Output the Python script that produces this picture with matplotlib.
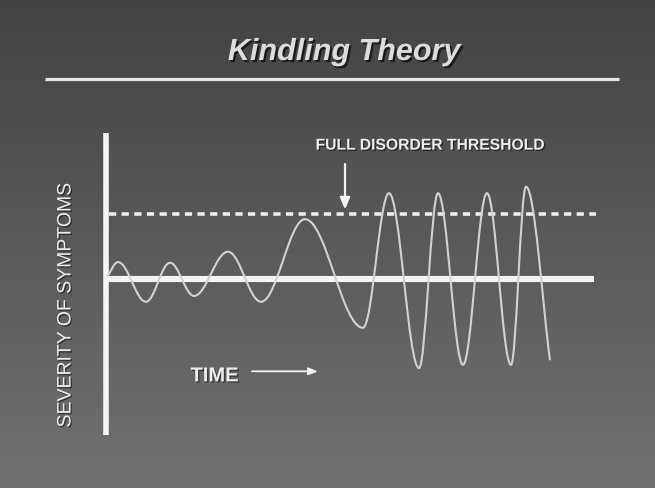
import numpy as np
import matplotlib
matplotlib.use("Agg")
import matplotlib.pyplot as plt
from matplotlib.path import Path
from matplotlib.patches import PathPatch
from matplotlib.lines import Line2D
import matplotlib.patheffects as pe

# ---- data ----
time_pts = [0.1, 1.2, 4.0, 6.4, 8.8, 12.2, 15.5, 19.9, 25.7, 28.3,
            31.3, 33.2, 35.7, 38.1, 40.5, 42.0, 44.4]
severity = [0.03, 0.26, -0.35, 0.25, -0.26, 0.42, -0.35, 0.92, -0.75, 1.32,
            -1.37, 1.32, -1.32, 1.32, -1.32, 1.42, -1.25]
baseline_level = 0.0
threshold_level = 1.0
title_text = "Kindling Theory"
threshold_label = "FULL DISORDER THRESHOLD"
time_label = "TIME"
y_label = "SEVERITY OF SYMPTOMS"

plt.rcParams['font.family'] = ['Liberation Sans', 'DejaVu Sans']

W, H = 655, 488
fig = plt.figure(figsize=(W / 100, H / 100), dpi=100)

# background gradient
bg = fig.add_axes([0, 0, 1, 1])
top = np.array([0x43, 0x43, 0x45]) / 255
bot = np.array([0x70, 0x71, 0x73]) / 255
g = np.linspace(0, 1, 256)[:, None]
img = top[None, None, :] * (1 - g[..., None]) + bot[None, None, :] * g[..., None]
img = np.repeat(img, 2, axis=1)
bg.imshow(img, aspect='auto', extent=[0, 1, 0, 1], origin='upper')
bg.set_axis_off()

# chart axes
ax = fig.add_axes([106 / W, (H - 435) / H, 490 / W, 302 / H])
ax.set_xlim(0, 49)
ax.set_ylim(-2.4, 2.246)
ax.set_axis_off()

# vertical axis line
ax.plot([0, 0], [-2.4, 2.246], color='#f4f4f4', lw=4.0, solid_capstyle='butt', clip_on=False, zorder=3)
# baseline
ax.plot([0, 48.8], [baseline_level, baseline_level], color='#f4f4f4', lw=4.4, solid_capstyle='butt', zorder=3)
# threshold dashed line
ax.plot([0.3, 49.0], [threshold_level, threshold_level], color='#eeeeee', lw=2.6,
        dashes=(2.0, 1.5), zorder=3)

# smooth curve through extrema (cubic Bezier, horizontal tangents at extrema)
k = 0.364
verts = [(time_pts[0], severity[0])]
codes = [Path.MOVETO]
n = len(time_pts)
for i in range(n - 1):
    x0, y0 = time_pts[i], severity[i]
    x1, y1 = time_pts[i + 1], severity[i + 1]
    dx = x1 - x0
    if i == 0:
        c1 = (x0 + 0.3 * dx, y0 + 0.3 * (y1 - y0))
    else:
        c1 = (x0 + k * dx, y0)
    if i == n - 2:
        c2 = (x1 - 0.3 * dx, y1 - 0.3 * (y1 - y0))
    else:
        c2 = (x1 - k * dx, y1)
    verts += [c1, c2, (x1, y1)]
    codes += [Path.CURVE4] * 3
curve = PathPatch(Path(verts, codes), facecolor='none', edgecolor='#d2d2d2', lw=1.5, zorder=4)
ax.add_patch(curve)

shadow = [pe.SimplePatchShadow(offset=(1, -1), shadow_rgbFace='black', alpha=0.45), pe.Normal()]

# threshold label + arrow
ax.text(32.4, 2.06, threshold_label, color='#ececec', fontsize=11.3, fontweight='bold',
        ha='center', va='center', path_effects=shadow)
ax.annotate('', xy=(23.9, 1.07), xytext=(23.9, 1.77),
            arrowprops=dict(arrowstyle='-|>,head_length=0.7,head_width=0.3', color='#f2f2f2',
                            lw=1.6, shrinkA=0, shrinkB=0), zorder=5)

# time label + arrow
ax.text(8.45, -1.49, time_label, color='#ececec', fontsize=14.5, fontweight='bold',
        ha='left', va='center', path_effects=shadow)
ax.annotate('', xy=(21.2, -1.42), xytext=(14.6, -1.42),
            arrowprops=dict(arrowstyle='-|>,head_length=0.55,head_width=0.22', color='#f2f2f2',
                            lw=1.3, shrinkA=0, shrinkB=0), zorder=5)

# y label
fig.text(66 / W, 1 - 305 / H, y_label, color='#ececec', fontsize=14, rotation=90,
         ha='center', va='center', path_effects=shadow)

# title + rule
fig.text(344 / W, 1 - 52 / H, title_text, color='#dcdcdc', fontsize=22, fontweight='bold',
         fontstyle='italic', ha='center', va='center',
         path_effects=[pe.SimplePatchShadow(offset=(1.5, -1.5), shadow_rgbFace='black', alpha=0.6), pe.Normal()])
fig.add_artist(Line2D([45 / W, 619 / W], [1 - 79 / H, 1 - 79 / H], color='#e6e6e6', lw=2.3,
                      solid_capstyle='butt'))

fig.savefig('out.png', dpi=100)
